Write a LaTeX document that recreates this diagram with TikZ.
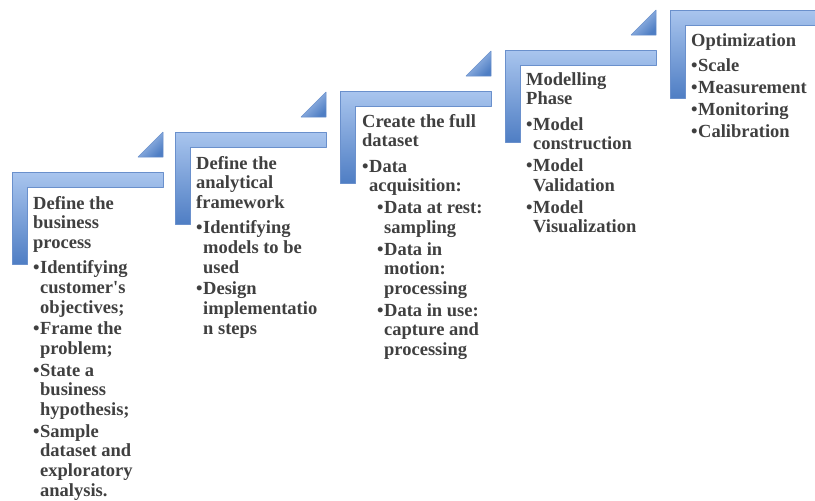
\documentclass[tikz,border=0pt]{standalone}
\usepackage{fontspec}
\setmainfont{Liberation Serif}
\definecolor{barlight}{HTML}{A9C5EE}
\definecolor{bardark}{HTML}{4F7EC4}
\definecolor{baredge}{HTML}{6A90CC}
\definecolor{txtgray}{HTML}{404040}
\newcommand{\bul}{\makebox[7pt][l]{\textbullet}}
\newcommand{\ind}{\hspace*{7pt}}
\newcommand{\indd}{\hspace*{15pt}}
\newcommand{\gA}{\\[6pt]}
\newcommand{\gB}{\\[2.2pt]}
\newcommand{\stxt}[1]{\parbox[t]{150pt}{\raggedright\bfseries\fontsize{18.5pt}{19.6pt}\selectfont #1}}
\tikzset{
  lbar/.style={top color=barlight, bottom color=bardark, draw=baredge, line width=0.6pt, line join=round},
  tri/.style={left color=barlight!90!white, right color=bardark, shading angle=45, draw=baredge, line width=0.5pt, line join=round},
  txt/.style={anchor=base west, inner sep=0pt, text=txtgray}
}
\newcommand{\stepL}[2]{% left, top
  \path[lbar] (#1,#2) -- ++(151,0) -- ++(0,15) -- ++(-136,0) -- ++(0,77) -- ++(-15,0) -- cycle;
}
\newcommand{\stepT}[2]{% right, top of bar
  \path[tri] (#1-25,#2-15) -- (#1,#2-15) -- (#1,#2-40) -- cycle;
}
\begin{document}
\begin{tikzpicture}[x=1pt,y=-1pt]
\useasboundingbox (0,0) rectangle (815,501);
\clip (0,0) rectangle (815,501);
\fill[white] (0,0) rectangle (815,501);
% steps
\stepL{12}{172}
\stepT{163}{172}
\stepL{175}{132}
\stepT{326}{132}
\stepL{340}{91}
\stepT{491}{91}
\stepL{505}{50}
\stepT{656}{50}
\path[lbar] (670,10) -- (830,10) -- (830,25) -- (685,25) -- (685,98) -- (670,98) -- cycle;
% texts
\node[txt] (t1) at (33,209) {\stxt{Define the\\business\\process\gA
\bul Identifying\\\ind customer\textquotesingle s\\\ind objectives;\gB
\bul Frame the\\\ind problem;\gB
\bul State a\\\ind business\\\ind hypothesis;\gB
\bul Sample\\\ind dataset and\\\ind exploratory\\\ind analysis.}};
\node[txt] (t2) at (196,169) {\stxt{Define the\\analytical\\framework\gA
\bul Identifying\\\ind models to be\\\ind used\gB
\bul Design\\\ind implementatio\\\ind n steps}};
\node[txt] (t3) at (362,127) {\stxt{Create the full\\dataset\gA
\bul Data\\\ind acquisition:\gB
\indd\bul Data at rest:\\\indd\ind sampling\gB
\indd\bul Data in\\\indd\ind motion:\\\indd\ind processing\gB
\indd\bul Data in use:\\\indd\ind capture and\\\indd\ind processing}};
\node[txt] (t4) at (526,85) {\stxt{Modelling\\Phase\gA
\bul Model\\\ind construction\gB
\bul Model\\\ind Validation\gB
\bul Model\\\ind Visualization}};
\node[txt] (t5) at (691,46) {\stxt{Optimization\gA
\bul Scale\gB
\bul Measurement\gB
\bul Monitoring\gB
\bul Calibration}};
\end{tikzpicture}
\end{document}
